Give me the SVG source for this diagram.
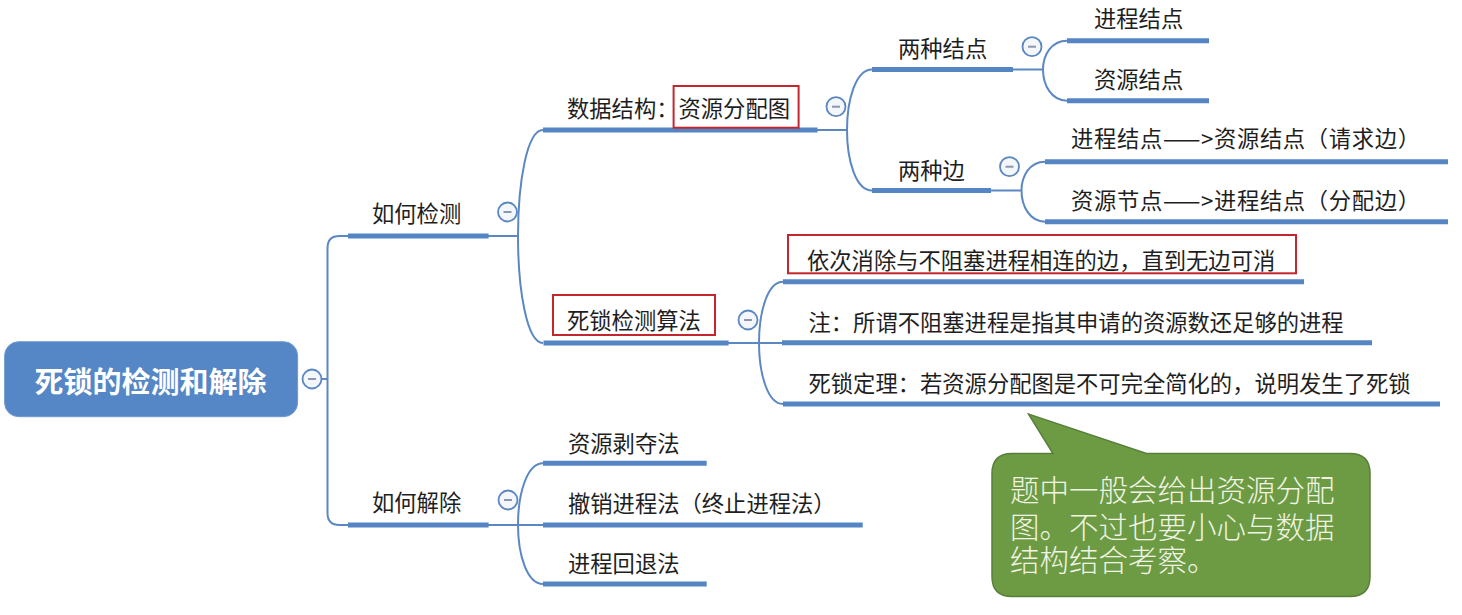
<svg xmlns="http://www.w3.org/2000/svg" width="1462" height="615" viewBox="0 0 1462 615">
<style>
.bar{stroke:#5585c3;stroke-width:5;fill:none}
.conn{stroke:#5b88c3;stroke-width:2;fill:none}
.t{font-family:"Noto Sans CJK SC","Noto Sans",sans-serif;font-size:22.3px;fill:#1e1e1e}
.red{fill:none;stroke:#c3272d;stroke-width:2}
.btn{fill:#f3f6fb;stroke:#5a86c2;stroke-width:1.8}
.minus{stroke:#8a97ad;stroke-width:2}
</style>
<defs>
<g id="btn"><circle class="btn" cx="0" cy="0" r="9.5"/><line class="minus" x1="-4" y1="0" x2="4" y2="0"/></g>
</defs>
<rect width="1462" height="615" fill="#ffffff"/>
<g id="connectors">
<path class="conn" d="M321,379 H327.5 M327.5,379 V248 Q327.5,236 339.5,236 H348 M327.5,379 V513 Q327.5,525 339.5,525 H348"/>
<path class="conn" d="M488,236 H518 M518,236 C518,183 526.75,130 543,130 M518,236 C518,289.5 526.75,343 543,343"/>
<path class="conn" d="M817,130 H847 M847,130 C847,99.75 855.75,69.5 872,69.5 M847,130 C847,160.25 855.75,190.5 872,190.5"/>
<path class="conn" d="M1013,69.5 H1043 M1043,69.5 C1043,55 1051.4,40.7 1067,40.7 M1043,69.5 C1043,85 1051.4,100.7 1067,100.7"/>
<path class="conn" d="M991,190.5 H1021.5 M1021.5,190.5 C1021.5,176 1029.7,161.7 1045,161.7 M1021.5,190.5 C1021.5,206 1029.7,221.7 1045,221.7"/>
<path class="conn" d="M728,343 H783 M759,343 C759,312 767.4,281.7 783,281.7 M759,343 C759,373 767.4,404 783,404"/>
<path class="conn" d="M488,525 H543 M518,525 C518,494 526.75,463.3 543,463.3 M518,525 C518,554 526.75,584 543,584"/>
</g>
<g id="root">
<rect x="4.6" y="341.7" width="293" height="75" rx="14" fill="#5586c6" stroke="#6e99d1" stroke-width="1"/>
<text x="150.5" y="393" text-anchor="middle" style="font-family:'Noto Sans CJK SC',sans-serif;font-size:29px;font-weight:bold;fill:#ffffff">死锁的检测和解除</text>
<use href="#btn" x="312" y="379"/>
</g>
<g id="detect">
<line class="bar" x1="348" y1="236" x2="488.6" y2="236"/>
<text class="t" x="372" y="222">如何检测</text>
<use href="#btn" x="507.5" y="212"/>
</g>
<g id="data-structure">
<line class="bar" x1="543" y1="130" x2="817.5" y2="130"/>
<rect class="red" x="673.6" y="86" width="125" height="41.7"/>
<text class="t" x="567" y="117">数据结构：资源分配图</text>
<use href="#btn" x="836" y="106.7"/>
</g>
<g id="two-nodes">
<line class="bar" x1="872" y1="69.5" x2="1013" y2="69.5"/>
<text class="t" x="898" y="57">两种结点</text>
<use href="#btn" x="1032" y="46.7"/>
</g>
<g id="process-node">
<line class="bar" x1="1067" y1="40.7" x2="1209" y2="40.7"/>
<text class="t" x="1094" y="27">进程结点</text>
</g>
<g id="resource-node">
<line class="bar" x1="1067" y1="100.7" x2="1209" y2="100.7"/>
<text class="t" x="1094" y="88">资源结点</text>
</g>
<g id="two-edges">
<line class="bar" x1="872" y1="190.5" x2="991" y2="190.5"/>
<text class="t" x="898" y="178.5">两种边</text>
<use href="#btn" x="1009.5" y="166.7"/>
</g>
<g id="request-edge">
<line class="bar" x1="1045" y1="161.7" x2="1448" y2="161.7"/>
<text class="t" x="1071" y="147" textLength="349" lengthAdjust="spacing">进程结点——&gt;资源结点（请求边）</text>
</g>
<g id="assign-edge">
<line class="bar" x1="1045" y1="221.7" x2="1448" y2="221.7"/>
<text class="t" x="1071" y="208.5" textLength="349" lengthAdjust="spacing">资源节点——&gt;进程结点（分配边）</text>
</g>
<g id="algorithm">
<line class="bar" x1="543.5" y1="343" x2="728.6" y2="343"/>
<rect class="red" x="553" y="295" width="162" height="40"/>
<text class="t" x="567" y="328.5">死锁检测算法</text>
<use href="#btn" x="748" y="320"/>
</g>
<g id="step">
<line class="bar" x1="783" y1="281.7" x2="1304" y2="281.7"/>
<rect class="red" x="788" y="235" width="508" height="38.3"/>
<text class="t" x="807" y="268.5">依次消除与不阻塞进程相连的边，直到无边可消</text>
</g>
<g id="note">
<line class="bar" x1="782" y1="342.7" x2="1372" y2="342.7"/>
<text class="t" x="808.5" y="330.5">注：所谓不阻塞进程是指其申请的资源数还足够的进程</text>
</g>
<g id="theorem">
<line class="bar" x1="783" y1="404" x2="1440" y2="404"/>
<text class="t" x="808.5" y="391.5">死锁定理：若资源分配图是不可完全简化的，说明发生了死锁</text>
</g>
<g id="callout">
<path d="M1012,453.5 H1053 L1028.5,414 L1146.5,453.5 H1350 Q1370,453.5 1370,473.5 V576.5 Q1370,596.5 1350,596.5 H1012 Q992,596.5 992,576.5 V473.5 Q992,453.5 1012,453.5 Z" fill="#6c9b44" stroke="#5a7f3c" stroke-width="1.5"/>
<text style="font-family:'Noto Sans CJK SC',sans-serif;font-size:29.5px;font-weight:300;fill:#f1f4e4"><tspan x="1010" y="501">题中一般会给出资源分配</tspan><tspan x="1010" y="537.5">图。不过也要小心与数据</tspan><tspan x="1010" y="571">结构结合考察。</tspan></text>
</g>
<g id="resolve">
<line class="bar" x1="348" y1="525" x2="488.6" y2="525"/>
<text class="t" x="372" y="510.5">如何解除</text>
<use href="#btn" x="508" y="500"/>
</g>
<g id="preempt">
<line class="bar" x1="543" y1="463.3" x2="706.7" y2="463.3"/>
<text class="t" x="568" y="451.5">资源剥夺法</text>
</g>
<g id="terminate">
<line class="bar" x1="543" y1="525" x2="862.7" y2="525"/>
<text class="t" x="568" y="511.5">撤销进程法（终止进程法）</text>
</g>
<g id="rollback">
<line class="bar" x1="543" y1="584" x2="706.7" y2="584"/>
<text class="t" x="568" y="571.5">进程回退法</text>
</g>
</svg>
